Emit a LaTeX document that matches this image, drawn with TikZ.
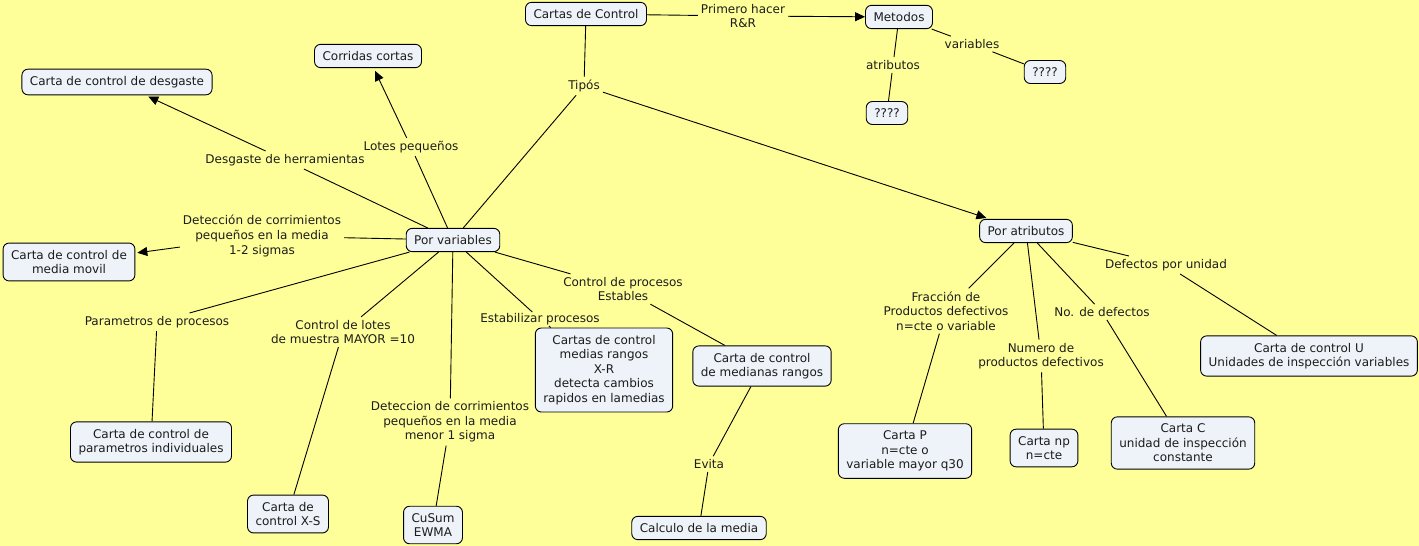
\documentclass[tikz,border=0pt]{standalone}
\usepackage{fontspec}
\setmainfont{DejaVu Sans}
\usepackage{tikz}
\usetikzlibrary{arrows.meta}
\usetikzlibrary{shapes}

\definecolor{mapyellow}{HTML}{FFFF99}
\definecolor{conceptfill}{HTML}{EDF3F8}
\definecolor{maptext}{HTML}{1C1C1C}

\begin{document}
\begin{tikzpicture}[x=1pt,y=-1pt,
  concept/.style={draw=black, fill=conceptfill, rounded corners=6pt, line width=0.9pt,
    align=center, inner xsep=8pt, inner ysep=7pt, text=maptext,
    font=\fontsize{12}{14.6}\selectfont},
  phrase/.style={align=center, inner sep=3pt, text=maptext,
    font=\fontsize{12}{14.6}\selectfont},
  link/.style={line width=0.9pt, draw=black},
  >={Triangle[length=10pt,width=9pt]}]

  % Background
  \fill[mapyellow] (0,0) rectangle (1419,546);
  \useasboundingbox (0,0) rectangle (1419,546);

  % Concepts
  \node[concept] (cartas) at (586,14) {Cartas de Control};
  \node[concept] (metodos) at (899,17) {Metodos};
  \node[concept] (qvar) at (1045,72) {????};
  \node[concept] (qatr) at (887,113) {????};
  \node[concept] (corridas) at (368,56) {Corridas cortas};
  \node[concept] (desgaste) at (117,82) {Carta de control de desgaste};
  \node[concept] (porvar) at (453,240) {Por variables};
  \node[concept] (mediamovil) at (69,262) {Carta de control de\\media movil};
  \node[concept] (paramind) at (151,442) {Carta de control de\\parametros individuales};
  \node[concept] (xs) at (288,514) {Carta de\\control X-S};
  \node[concept] (cusum) at (433,525) {CuSum\\EWMA};
  \node[concept] (xr) at (604,370) {Cartas de control\\medias rangos\\X-R\\detecta cambios\\rapidos en lamedias};
  \node[concept] (medianas) at (762,366) {Carta de control\\de medianas rangos};
  \node[concept] (calculo) at (699,528) {Calculo de la media};
  \node[concept] (poratr) at (1026,231) {Por atributos};
  \node[concept] (cartap) at (905,451) {Carta P\\n=cte o\\variable mayor q30};
  \node[concept] (cartanp) at (1044,448) {Carta np\\n=cte};
  \node[concept] (cartac) at (1183,443) {Carta C\\unidad de inspección\\constante};
  \node[concept] (cartau) at (1309,356) {Carta de control U\\Unidades de inspección variables};

  % Linking phrases
  \node[phrase] (lrr) at (743,16) {Primero hacer\\R\&R};
  \node[phrase] (ltipos) at (584,86) {Tipós};
  \node[phrase] (latr) at (893,65) {atributos};
  \node[phrase] (lvar) at (972,44) {variables};
  \node[phrase] (llotes) at (411,147) {Lotes pequeños};
  \node[phrase] (lherr) at (285,160) {Desgaste de herramientas};
  \node[phrase] (lmovil) at (262,236) {Detección de corrimientos\\pequeños en la media\\1-2 sigmas};
  \node[phrase] (lparam) at (157,322) {Parametros de procesos};
  \node[phrase] (lmuestra) at (343,332) {Control de lotes\\de muestra MAYOR =10};
  \node[phrase] (lsigma) at (450,422) {Deteccion de corrimientos\\pequeños en la media\\menor 1 sigma};
  \node[phrase, inner sep=1pt] (lestab) at (540,319) {Estabilizar procesos};
  \node[phrase] (lestables) at (623,289) {Control de procesos\\Estables};
  \node[phrase] (levita) at (709,464) {Evita};
  \node[phrase] (ldefu) at (1166,265) {Defectos por unidad};
  \node[phrase] (lfrac) at (946,311) {Fracción de\\Productos defectivos\\n=cte o variable};
  \node[phrase] (lnum) at (1041,356) {Numero de\\productos defectivos};
  \node[phrase] (lnodef) at (1102,312) {No. de defectos};

  % Connections
  \draw[link] (cartas) -- (lrr);
  \draw[link,->] (lrr) -- (metodos);
  \draw[link] (cartas) -- (ltipos);
  \draw[link] (ltipos) -- (porvar);
  \draw[link,->,shorten >=3pt] (ltipos) -- (poratr);
  \draw[link] (metodos) -- (latr);
  \draw[link] (latr) -- (qatr);
  \draw[link] (metodos) -- (lvar);
  \draw[link] (lvar) -- (qvar);

  \draw[link] (porvar) -- (llotes);
  \draw[link,->,shorten >=3pt] (llotes) -- (corridas);
  \draw[link] (porvar) -- (lherr);
  \draw[link,->,shorten >=3pt] (lherr) -- (desgaste);
  \draw[link] (porvar) -- (lmovil);
  \draw[link,->,shorten >=2pt] (lmovil) -- (mediamovil);
  \draw[link] (porvar) -- (lparam);
  \draw[link] (lparam) -- (paramind);
  \draw[link] (porvar) -- (lmuestra);
  \draw[link] (lmuestra) -- (xs);
  \draw[link] (porvar) -- (lsigma);
  \draw[link] (lsigma) -- (cusum);
  \draw[link] (porvar) -- (lestab);
  \draw[link] (lestab) -- (xr);
  \draw[link] (porvar) -- (lestables);
  \draw[link] (lestables) -- (medianas);
  \draw[link] (medianas) -- (levita);
  \draw[link] (levita) -- (calculo);

  \draw[link] (poratr) -- (lfrac);
  \draw[link] (lfrac) -- (cartap);
  \draw[link] (poratr) -- (lnum);
  \draw[link] (lnum) -- (cartanp);
  \draw[link] (poratr) -- (lnodef);
  \draw[link] (lnodef) -- (cartac);
  \draw[link] (poratr) -- (ldefu);
  \draw[link] (ldefu) -- (cartau);
\end{tikzpicture}
\end{document}
